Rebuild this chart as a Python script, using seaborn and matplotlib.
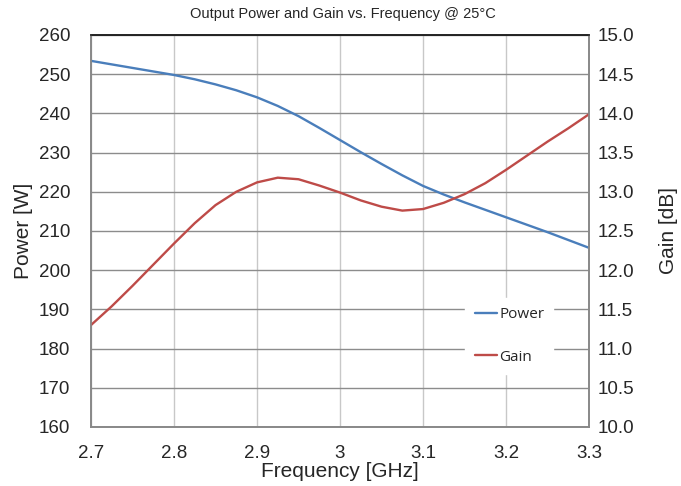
import matplotlib
matplotlib.use("Agg")
import matplotlib.pyplot as plt
import seaborn as sns
import pandas as pd

freq = [2.700, 2.725, 2.750, 2.775, 2.800, 2.825, 2.850, 2.875, 2.900, 2.925, 2.950, 2.975,
        3.000, 3.025, 3.050, 3.075, 3.100, 3.125, 3.150, 3.175, 3.200, 3.225, 3.250, 3.275, 3.300]
power = [253.4, 252.5, 251.6, 250.7, 249.8, 248.7, 247.4, 245.9, 244.1, 241.9, 239.3, 236.3,
         233.2, 230.1, 227.1, 224.2, 221.5, 219.3, 217.3, 215.4, 213.5, 211.6, 209.7, 207.7, 205.7]
gain = [11.30, 11.54, 11.80, 12.07, 12.34, 12.60, 12.83, 13.00, 13.12, 13.18, 13.16, 13.08,
        12.99, 12.89, 12.81, 12.76, 12.78, 12.86, 12.97, 13.11, 13.28, 13.46, 13.64, 13.81, 13.99]

sns.set_theme(style="white")
plt.rcParams['font.family'] = ['Liberation Sans', 'DejaVu Sans']

fig = plt.figure(figsize=(6.81, 4.86), dpi=100)
ax = fig.add_axes([0.1336, 0.1214, 0.7314, 0.8066])
ax2 = ax.twinx()

df = pd.DataFrame({"f": freq, "p": power, "g": gain})
sns.lineplot(data=df, x="f", y="p", ax=ax, color="#4A7EBB", lw=1.7, label="Power", legend=False)
sns.lineplot(data=df, x="f", y="g", ax=ax2, color="#BE4B48", lw=1.7, label="Gain", legend=False)

ax.set_xlim(2.7, 3.3)
ax.set_ylim(160, 260)
ax2.set_ylim(10, 15)
ax.set_xticks([2.7, 2.8, 2.9, 3.0, 3.1, 3.2, 3.3])
ax.set_xticklabels(["2.7", "2.8", "2.9", "3", "3.1", "3.2", "3.3"])
ax.set_yticks(range(160, 261, 10))
ax2.set_yticks([10 + 0.5 * i for i in range(11)])
ax2.set_yticklabels([f"{10 + 0.5 * i:.1f}" for i in range(11)])

for a in (ax, ax2):
    a.tick_params(axis="both", labelsize=13.5, length=0)
    for s in a.spines.values():
        s.set_color("#888888")
        s.set_linewidth(1.2)
ax.tick_params(axis="x", pad=13)
ax.tick_params(axis="y", pad=15)
ax2.tick_params(axis="y", pad=6)
ax.spines["top"].set_color("#222222")
ax2.spines["top"].set_color("#222222")

ax.xaxis.grid(True, color="#c8c8c8", lw=1.0)
ax.yaxis.grid(True, color="#8c8c8c", lw=1.0)
ax.set_axisbelow(True)

ax.set_xlabel("Frequency [GHz]", fontsize=15, labelpad=0)
ax.set_ylabel("Power [W]", fontsize=15, labelpad=4)
ax2.set_ylabel("Gain [dB]", fontsize=15, labelpad=18)
fig.text(0.504, 0.971, "Output Power and Gain vs. Frequency @ 25°C", ha="center", va="center",
         fontsize=10.5)

h1, l1 = ax.get_legend_handles_labels()
h2, l2 = ax2.get_legend_handles_labels()
leg = ax2.legend(h1 + h2, l1 + l2, loc="center", bbox_to_anchor=(0.84, 0.232), frameon=True,
                 handlelength=1.45, handletextpad=0.15, labelspacing=1.8, borderpad=0.6,
                 prop={"family": ["Open Sans", "DejaVu Sans"], "size": 11})
leg.get_frame().set_facecolor("white")
leg.get_frame().set_edgecolor("white")
leg.get_frame().set_alpha(1)
leg.get_frame().set_boxstyle("square", pad=0.0)

fig.savefig("out.png", dpi=100)
